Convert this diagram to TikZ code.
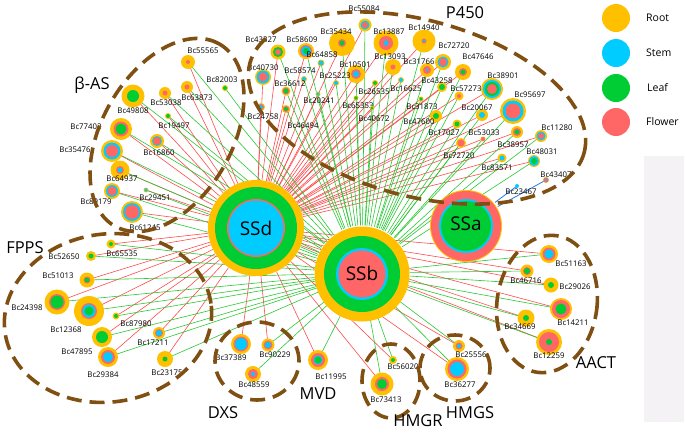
\documentclass[tikz,border=0pt]{standalone}
\usepackage{fontspec}
\setmainfont{Open Sans}
\pgfdeclarelayer{edgelayer}
\pgfsetlayers{edgelayer,main}
\definecolor{rt}{RGB}{255,192,0}
\definecolor{st}{RGB}{0,204,255}
\definecolor{lf}{RGB}{0,204,51}
\definecolor{fl}{RGB}{255,102,102}
\definecolor{ered}{RGB}{255,75,75}
\definecolor{egreen}{RGB}{40,200,50}
\definecolor{eblue}{RGB}{40,120,230}
\definecolor{brn}{RGB}{127,80,18}
\definecolor{panel}{RGB}{244,242,244}
\tikzset{
  lab/.style={font=\fontsize{7.8}{9}\selectfont, inner sep=0pt, text=black},
  grplab/.style={font=\fontsize{16.5}{18}\selectfont, inner sep=0pt},
  hublab/.style={circle, inner sep=0pt, font=\fontsize{19}{21}\selectfont},
  dot/.style={circle, inner sep=0pt, minimum size=0pt},
  ered/.style={draw=ered, line width=0.6pt},
  egreen/.style={draw=egreen, line width=0.6pt},
  eblue/.style={draw=eblue, line width=0.8pt},
  grp/.style={draw=brn, line width=3.6pt, dash pattern=on 15pt off 8pt},
  legdot/.style={circle, inner sep=0pt, minimum size=28pt},
  leglab/.style={anchor=west, inner sep=0pt, font=\fontsize{10.5}{12}\selectfont},
}
\newcommand\leaf[5]{%
  \node[dot] (#1) at (#2) {};
  \foreach \cc/\rr in {#3} {\fill[\cc] (#2) circle[radius=\rr pt];}
  \node[lab] (#1l) at (#4) {#5};
}
\begin{document}
\begin{tikzpicture}[x=1pt,y=-1pt]
\useasboundingbox (0,0) rectangle (685,432);
\fill[panel] (644,156) rectangle (684,422);

% ---------- hubs ----------
\foreach \cc/\rr in {rt/48, lf/41, fl/29, st/27.5} {\fill[\cc] (256,228) circle[radius=\rr pt];}
\node[hublab, minimum size=96pt] (SSd) at (256,228) {SSd};
\foreach \cc/\rr in {rt/47.5, lf/38, st/26, fl/23.5} {\fill[\cc] (362,274) circle[radius=\rr pt];}
\node[hublab, minimum size=95pt] (SSb) at (362,273) {SSb};
\foreach \cc/\rr in {rt/36, fl/35, st/27, lf/25} {\fill[\cc] (466,226) circle[radius=\rr pt];}
\node[hublab, minimum size=72pt] (SSa) at (466,224) {SSa};

% ---------- beta-AS ----------
\leaf{Bc55565}{188,62}{rt/7,fl/2}{203,51}{Bc55565}
\leaf{Bc82003}{225,88}{rt/3,lf/2}{222,80}{Bc82003}
\leaf{Bc63873}{187,87}{rt/6,fl/2.5}{197,98}{Bc63873}
\leaf{Bc53038}{165,93}{rt/6,fl/2.5}{166,103}{Bc53038}
\leaf{Bc49808}{133,96}{rt/11.5,lf/6}{133,111}{Bc49808}
\leaf{Bc19497}{168,116}{rt/3,lf/2}{174,126}{Bc19497}
\leaf{Bc77402}{121,129}{rt/11,fl/7.5,lf/5.5}{86,127}{Bc77402}
\leaf{Bc16860}{157,141}{rt/7,st/5,fl/4}{159,153}{Bc16860}
\leaf{Bc35476}{112,151}{rt/11,st/8.5,fl/6}{75,150}{Bc35476}
\leaf{Bc64937}{120,170}{rt/9.5,fl/4,st/2.5}{122,179}{Bc64937}
\leaf{Bc89179}{112,191}{rt/8,st/6,fl/4.5}{96,202}{Bc89179}
\leaf{Bc29451}{146,190}{rt/2.5,st/1.8}{155,198}{Bc29451}
\leaf{Bc61245}{132,212}{rt/11,st/9,fl/7}{145,228}{Bc61245}

% ---------- P450 ----------
\leaf{Bc43327}{278,52}{rt/7.5,lf/5,fl/3}{261,40}{Bc43327}
\leaf{Bc58609}{306,51}{rt/8,fl/6,st/5,lf/3}{302,40}{Bc58609}
\leaf{Bc35434}{342,43}{rt/13,fl/4,lf/2.5}{336,32}{Bc35434}
\leaf{Bc55084}{365,25}{rt/6.5,st/4.5,fl/3}{364,9}{Bc55084}
\leaf{Bc13887}{386,43}{rt/12.5,fl/7,st/2.5}{389,32}{Bc13887}
\leaf{Bc14940}{424,41}{rt/11.5,fl/2.5,st/1.5}{424,28}{Bc14940}
\leaf{Bc72720}{443,62}{rt/8,st/5.5,fl/4}{454,46}{Bc72720}
\leaf{Bc47646}{463,72}{rt/8,fl/4,lf/2.5}{478,57}{Bc47646}
\leaf{Bc13093}{393,67}{rt/8,fl/2.5}{390,57}{Bc13093}
\leaf{Bc31766}{427,70}{rt/7,fl/4,st/1.5}{419,62}{Bc31766}
\leaf{Bc38901}{492,89}{rt/11,st/9,lf/7,fl/5}{503,76}{Bc38901}
\leaf{Bc95697}{513,111}{rt/13,st/10.5,fl/7.5}{530,95}{Bc95697}
\leaf{Bc43258}{442,87}{rt/5,lf/3}{437,81}{Bc43258}
\leaf{Bc57273}{459,96}{rt/4.5,fl/2}{466,89}{Bc57273}
\leaf{Bc16625}{401,80}{rt/3,st/2}{406,89}{Bc16625}
\leaf{Bc26535}{375,83}{rt/3,lf/2}{374,92}{Bc26535}
\leaf{Bc10501}{356,74}{rt/9,fl/5,st/3}{355,65}{Bc10501}
\leaf{Bc64858}{321,63}{rt/3.5,st/2.5}{322,55}{Bc64858}
\leaf{Bc58574}{304,79}{rt/3,st/2}{300,71}{Bc58574}
\leaf{Bc25223}{336,83}{rt/3,st/2}{335,76}{Bc25223}
\leaf{Bc40730}{263,77}{rt/8,st/6.5,fl/4.5}{263,68}{Bc40730}
\leaf{Bc36612}{286,91}{rt/4.5,fl/3.5,lf/2.5}{290,84}{Bc36612}
\leaf{Bc20241}{318,94}{rt/2.5,st/1.8}{319,101}{Bc20241}
\leaf{Bc65353}{356,98}{rt/2.5,lf/1.8}{358,106}{Bc65353}
\leaf{Bc40672}{372,108}{rt/2,lf/1.5}{374,119}{Bc40672}
\leaf{Bc31873}{421,99}{rt/2.5,lf/1.8}{422,107}{Bc31873}
\leaf{Bc47600}{436,116}{rt/6,lf/3}{419,122}{Bc47600}
\leaf{Bc24758}{261,107}{rt/4,fl/3,st/2}{263,117}{Bc24758}
\leaf{Bc46494}{286,109}{rt/4,fl/3,lf/2}{303,126}{Bc46494}
\leaf{Bc20067}{482,115}{rt/6,st/3}{477,108}{Bc20067}
\leaf{Bc17027}{457,124}{rt/4.5,lf/2.5}{444,133}{Bc17027}
\leaf{Bc53033}{483,139}{rt/2.5,fl/2}{484,133}{Bc53033}
\leaf{Bc72720b}{461,143}{rt/5,fl/3.5}{459,156}{Bc72720}
\leaf{Bc11280}{541,136}{rt/6,st/4.5,fl/3}{557,128}{Bc11280}
\leaf{Bc38957}{517,132}{rt/6,fl/4,lf/2.5}{513,145}{Bc38957}
\leaf{Bc48031}{534,161}{rt/6,st/5,lf/3}{542,152}{Bc48031}
\leaf{Bc83571}{502,158}{rt/4.5,st/2.5}{497,168}{Bc83571}
\leaf{Bc43407}{546,180}{rt/3,fl/2.5,st/1.5}{556,175}{Bc43407}
\leaf{Bc23467}{517,186}{st/2}{521,192}{Bc23467}

% ---------- FPPS ----------
\leaf{Bc65535}{111,244}{rt/4.5,lf/2}{122,254}{Bc65535}
\leaf{Bc52650}{91,256}{rt/5,lf/2.5}{64,257}{Bc52650}
\leaf{Bc51013}{87,280}{rt/7.5,fl/3.5,lf/2.5}{58,276}{Bc51013}
\leaf{Bc24398}{57,302}{rt/12.5,fl/8,lf/6.5}{27,308}{Bc24398}
\leaf{Bc12368}{89,311}{rt/15,fl/8,st/6.5,lf/4.5}{66,330}{Bc12368}
\leaf{Bc87980}{116,316}{rt/3.5,lf/2}{136,324}{Bc87980}
\leaf{Bc17211}{159,333}{rt/6,fl/4,st/3}{153,343}{Bc17211}
\leaf{Bc47895}{102,337}{rt/10,lf/6}{77,352}{Bc47895}
\leaf{Bc29384}{108,357}{rt/10,fl/7,st/5}{103,375}{Bc29384}
\leaf{Bc23175}{165,359}{rt/8,lf/2.5}{167,373}{Bc23175}

% ---------- DXS / MVD / HMGR / HMGS ----------
\leaf{Bc37389}{241,344}{rt/10,fl/7.5,st/6}{231,358}{Bc37389}
\leaf{Bc90229}{268,345}{rt/6.5,fl/4.5,st/3}{275,355}{Bc90229}
\leaf{Bc48559}{253,374}{rt/8,fl/5,st/2}{254,385}{Bc48559}
\leaf{Bc11995}{318,360}{rt/10,fl/7,st/4.5,lf/3.5}{331,377}{Bc11995}
\leaf{Bc56020}{393,360}{rt/4,lf/2}{403,367}{Bc56020}
\leaf{Bc73413}{382,384}{rt/11.5,fl/7,lf/5}{386,400}{Bc73413}
\leaf{Bc25556}{459,346}{rt/6,fl/3.5,st/2}{471,355}{Bc25556}
\leaf{Bc36277}{457,369}{rt/12,fl/9.5,st/7}{460,385}{Bc36277}

% ---------- AACT ----------
\leaf{Bc51163}{549,254}{rt/9,fl/6.5,st/4.5}{571,264}{Bc51163}
\leaf{Bc46716}{527,271}{rt/6.5,fl/4,lf/3}{526,281}{Bc46716}
\leaf{Bc29026}{551,285}{rt/7.5,lf/3}{575,287}{Bc29026}
\leaf{Bc14211}{561,309}{rt/11,fl/9,lf/5.5}{573,323}{Bc14211}
\leaf{Bc34669}{526,318}{rt/8.5,lf/3}{520,327}{Bc34669}
\leaf{Bc12259}{549,342}{rt/13,fl/10,lf/3}{549,356}{Bc12259}

% ---------- edges ----------
\begin{pgfonlayer}{edgelayer}
\foreach \n in {Bc55565,Bc63873,Bc53038,Bc49808,Bc19497,Bc77402,Bc16860,Bc35476,Bc64937,Bc89179,Bc29451,Bc61245,
  Bc43327,Bc58609,Bc35434,Bc55084,Bc13887,Bc14940,Bc72720,Bc47646,Bc13093,Bc31766,Bc38901,Bc95697,Bc43258,Bc57273,Bc16625,Bc26535,Bc10501,Bc64858,Bc58574,Bc25223,Bc40730,Bc36612,Bc20241,Bc65353,Bc40672,Bc31873,Bc47600,Bc24758,Bc46494,Bc20067,Bc17027,Bc53033,Bc72720b,Bc11280,Bc38957,Bc48031,Bc83571,
  Bc65535,Bc52650,Bc51013,Bc24398,Bc12368,Bc87980,Bc17211,Bc47895,Bc29384,Bc23175,
  Bc37389,Bc90229,Bc11995,Bc56020,Bc73413,Bc25556,Bc36277,
  Bc51163,Bc46716,Bc29026,Bc14211,Bc34669,Bc12259}
  {\draw[ered] (\n) -- (SSd);}
\foreach \n in {Bc55565,Bc82003,Bc63873,Bc53038,Bc49808,Bc19497,Bc77402,Bc16860,Bc35476,Bc64937,Bc89179,Bc29451,Bc61245,
  Bc43327,Bc58609,Bc35434,Bc55084,Bc13887,Bc14940,Bc72720,Bc47646,Bc13093,Bc31766,Bc38901,Bc95697,Bc43258,Bc57273,Bc16625,Bc26535,Bc10501,Bc64858,Bc58574,Bc25223,Bc36612,Bc20241,Bc65353,Bc40672,Bc31873,Bc47600,Bc46494,Bc20067,Bc17027,Bc53033,Bc72720b,Bc11280,Bc38957,Bc48031,Bc83571,
  Bc65535,Bc52650,Bc51013,Bc24398,Bc12368,Bc87980,Bc17211,Bc47895,Bc29384,Bc23175,
  Bc90229,Bc48559,Bc11995,Bc56020,Bc73413,Bc25556,Bc36277,
  Bc51163,Bc46716,Bc29026,Bc14211,Bc34669,Bc12259}
  {\draw[egreen] (\n) -- (SSb);}
\draw[eblue] (Bc23467) -- (SSa);
\draw[eblue] (Bc43407) -- (SSa);
\end{pgfonlayer}

% ---------- group outlines ----------
\draw[grp, rotate around={60:(167,135)}] (167,135) ellipse (105pt and 65pt);
\draw[grp, rotate around={-15:(417,108)}] (417,108) ellipse (173pt and 88pt);
\draw[grp, rotate around={8:(108,318)}] (108,318) ellipse (104pt and 84pt);
\draw[grp] (257,361) ellipse (42pt and 39pt);
\draw[grp] (391,381) ellipse (29pt and 37pt);
\draw[grp] (455,368) ellipse (35pt and 33pt);
\draw[grp, rotate around={-8:(547,304)}] (547,304) ellipse (50pt and 69pt);

% ---------- group labels ----------
\node[grplab] (gBAS) at (92,85) {β-AS};
\node[grplab] (gP450) at (465,13) {P450};
\node[grplab] (gFPPS) at (25,248) {FPPS};
\node[grplab] (gDXS) at (223,413) {DXS};
\node[grplab] (gMVD) at (318,394) {MVD};
\node[grplab] (gHMGR) at (418,421) {HMGR};
\node[grplab] (gHMGS) at (470,413) {HMGS};
\node[grplab] (gAACT) at (596,363) {AACT};

% ---------- legend ----------
\node[legdot, fill=rt] (legR) at (616,18) {};
\node[legdot, fill=st] (legS) at (616,53) {};
\node[legdot, fill=lf] (legL) at (616,88) {};
\node[legdot, fill=fl] (legF) at (616,122) {};
\node[leglab] (legRl) at (646,18) {Root};
\node[leglab] (legSl) at (646,53) {Stem};
\node[leglab] (legLl) at (647,88) {Leaf};
\node[leglab] (legFl) at (646,122) {Flower};
\end{tikzpicture}
\end{document}
